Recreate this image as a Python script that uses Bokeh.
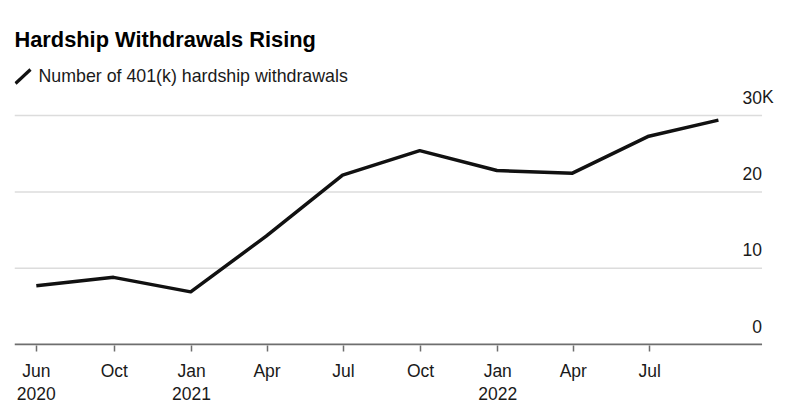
import pandas as pd
from bokeh.plotting import figure
from bokeh.models import (ColumnDataSource, FixedTicker, Range1d, Label,
                          PolyAnnotation)
from bokeh.embed import file_html
from bokeh.resources import INLINE

# ---- data ----
dates = ["2020-06-30", "2020-09-30", "2020-12-31", "2021-03-31", "2021-06-30",
         "2021-09-30", "2021-12-31", "2022-03-31", "2022-06-30", "2022-09-21"]
withdrawals_k = [7.7, 8.8, 6.9, 14.2, 22.2, 25.4, 22.8, 22.45, 27.3, 29.4]

x_tick_dates = ["2020-06-30", "2020-10-01", "2021-01-01", "2021-04-01", "2021-07-01",
                "2021-10-01", "2022-01-01", "2022-04-01", "2022-07-01"]
x_tick_labels = ["Jun\n2020", "Oct", "Jan\n2021", "Apr", "Jul", "Oct", "Jan\n2022", "Apr", "Jul"]

y_ticks = [0, 10, 20, 30]
y_tick_labels = ["0", "10", "20", "30"]
y_unit = "K"

title_text = "Hardship Withdrawals Rising"
legend_text = "Number of 401(k) hardship withdrawals"

FONT = "Liberation Sans"
TXT = "#1a1a1a"

x = pd.to_datetime(dates)
src = ColumnDataSource(dict(x=x, y=withdrawals_k))

x_start = pd.Timestamp("2020-06-04")
axis_end = pd.Timestamp("2022-11-12")   # where axis line / gridlines stop
x_end = pd.Timestamp("2022-12-04")

p = figure(width=790, height=410, x_axis_type="datetime",
           x_range=Range1d(x_start, x_end), y_range=Range1d(-0.13, 45.08),
           output_backend="svg", toolbar_location=None,
           min_border_left=14, min_border_right=10, min_border_top=0,
           min_border_bottom=65)
p.outline_line_color = None
p.background_fill_color = "white"
p.border_fill_color = "white"
p.yaxis.visible = False
p.xgrid.visible = False
p.ygrid.visible = False

# gridlines and baseline (stop short of the label overhang)
grid_src = ColumnDataSource(dict(x0=[x_start] * 3, x1=[axis_end] * 3, y=y_ticks[1:]))
p.segment(x0="x0", x1="x1", y0="y", y1="y", source=grid_src,
          line_color="#dcdcdc", line_width=1.5)
p.segment(x0=[x_start], x1=[axis_end], y0=[y_ticks[0]], y1=[y_ticks[0]],
          line_color="#6e6e6e", line_width=2)

# data line
p.line("x", "y", source=src, line_color="#111111", line_width=3.5, line_join="round")

# y labels above gridlines
for v, t in zip(y_ticks, y_tick_labels):
    p.add_layout(Label(x=axis_end, y=v, text=t, text_align="right",
                       text_baseline="alphabetic", y_offset=18.5, text_font=FONT,
                       text_font_size="17.5px", text_color=TXT))
p.add_layout(Label(x=axis_end, y=y_ticks[-1], text=y_unit, text_align="left",
                   text_baseline="alphabetic", y_offset=18.5, text_font=FONT,
                   text_font_size="17.5px", text_color=TXT))

# title & legend
p.add_layout(Label(x=0, y=306, x_units="screen", y_units="screen", text=title_text,
                   text_font=FONT, text_font_size="21.8px", text_font_style="bold",
                   text_color="#000000", text_baseline="alphabetic"))
p.add_layout(Label(x=24, y=269.7, x_units="screen", y_units="screen", text=legend_text,
                   text_font=FONT, text_font_size="17.8px", text_color=TXT,
                   text_baseline="alphabetic"))
p.add_layout(PolyAnnotation(xs=[1, 16], ys=[262, 276], xs_units="screen",
                            ys_units="screen", line_color="#111111", line_width=3.2,
                            line_alpha=1.0, fill_alpha=0))

# x axis
tick_ms = [pd.Timestamp(d).value / 1e6 for d in x_tick_dates]
p.xaxis.ticker = FixedTicker(ticks=tick_ms)
p.xaxis.major_label_overrides = {t: l for t, l in zip(tick_ms, x_tick_labels)}
p.xaxis.minor_tick_line_color = None
p.xaxis.axis_line_color = None
p.xaxis.major_tick_in = 0
p.xaxis.major_tick_out = 6
p.xaxis.major_tick_line_color = "#6e6e6e"
p.xaxis.major_tick_line_width = 1.5
p.xaxis.major_label_text_font = FONT
p.xaxis.major_label_text_font_size = "17.5px"
p.xaxis.major_label_text_line_height = 1.16
p.xaxis.major_label_text_color = TXT
p.xaxis.major_label_standoff = 9

open("out.html", "w").write(file_html(p, INLINE))
